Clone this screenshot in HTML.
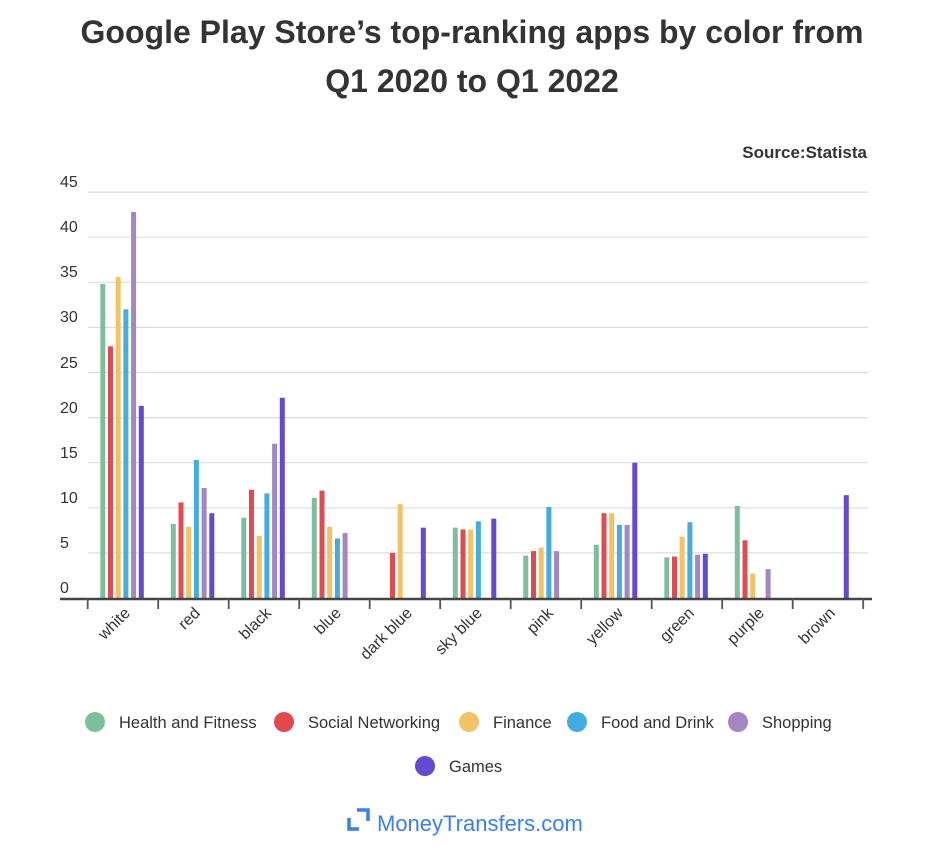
<!DOCTYPE html>
<html><head><meta charset="utf-8"><style>
body{margin:0;background:#fff;}
svg{display:block;font-family:"Liberation Sans",Arial,sans-serif;}
</style></head><body>
<svg id="s" width="932" height="858" viewBox="0 0 932 858" xmlns="http://www.w3.org/2000/svg">
<rect width="932" height="858" fill="#fff"/>
<text x="472" y="43" text-anchor="middle" font-size="32" font-weight="bold" fill="#333">Google Play Store’s top-ranking apps by color from</text>
<text x="472" y="92" text-anchor="middle" font-size="32" font-weight="bold" fill="#333">Q1 2020 to Q1 2022</text>
<text x="867" y="158" text-anchor="end" font-size="17" font-weight="bold" fill="#333">Source:Statista</text>
<g id="grid" stroke="#ddd" stroke-width="1.2"></g>
<g font-size="16" fill="#333">
<text x="60" y="187">45</text><text x="60" y="232">40</text><text x="60" y="277">35</text><text x="60" y="322">30</text><text x="60" y="368">25</text><text x="60" y="413">20</text><text x="60" y="458">15</text><text x="60" y="503">10</text><text x="60" y="548">5</text><text x="60" y="593">0</text>
</g>
<g id="bars"></g>
<line x1="60" y1="599" x2="872" y2="599" stroke="#444" stroke-width="2.5"/>
<g id="ticks" stroke="#555" stroke-width="1.8"></g>
<g font-size="16" fill="#333" text-anchor="end">
<text transform="translate(131,614) rotate(-45)">white</text>
<text transform="translate(201,614) rotate(-45)">red</text>
<text transform="translate(272,614) rotate(-45)">black</text>
<text transform="translate(342,614) rotate(-45)">blue</text>
<text transform="translate(413,614) rotate(-45)">dark blue</text>
<text transform="translate(483,614) rotate(-45)">sky blue</text>
<text transform="translate(554,614) rotate(-45)">pink</text>
<text transform="translate(624,614) rotate(-45)">yellow</text>
<text transform="translate(695,614) rotate(-45)">green</text>
<text transform="translate(765,614) rotate(-45)">purple</text>
<text transform="translate(836,614) rotate(-45)">brown</text>
</g>
<g font-size="16.5" fill="#333">
<circle cx="95" cy="722" r="10" fill="#7dbf9c"/><text x="119" y="728">Health and Fitness</text>
<circle cx="284" cy="722" r="10" fill="#e04a50"/><text x="308" y="728">Social Networking</text>
<circle cx="469" cy="722" r="10" fill="#f2c265"/><text x="493" y="728">Finance</text>
<circle cx="577" cy="722" r="10" fill="#43ade0"/><text x="601" y="728">Food and Drink</text>
<circle cx="738" cy="722" r="10" fill="#a487c0"/><text x="762" y="728">Shopping</text>
<circle cx="425" cy="766" r="10" fill="#6449d3"/><text x="449" y="772">Games</text>
</g>
<g fill="none" stroke="#3a7ef0" stroke-width="3.5">
<path d="M349 818 v11 h10"/><path d="M357 810 h11 v11"/>
</g>
<text x="377" y="831" font-size="22" fill="#3a7ef0">MoneyTransfers.com</text>
</svg>
<script>
var ns="http://www.w3.org/2000/svg";
var g=document.getElementById('grid');
for(var v=5;v<=45;v+=5){var y=598-v*9.02;var l=document.createElementNS(ns,'line');l.setAttribute('x1',88);l.setAttribute('x2',868);l.setAttribute('y1',y);l.setAttribute('y2',y);g.appendChild(l);}
var t=document.getElementById('ticks');
for(var i=0;i<12;i++){var x=87.7+i*70.5;var l=document.createElementNS(ns,'line');l.setAttribute('x1',x);l.setAttribute('x2',x);l.setAttribute('y1',599);l.setAttribute('y2',609);t.appendChild(l);}
var cols=["#7dbf9c","#e04a50","#f2c265","#43ade0","#a487c0","#6449d3"];
var d=[[34.8,27.9,35.6,32,42.8,21.3],[8.2,10.6,7.9,15.3,12.2,9.4],[8.9,12,6.9,11.6,17.1,22.2],[11.1,11.9,7.9,6.6,7.2,0],[0,5,10.4,0,0,7.8],[7.8,7.6,7.6,8.5,0,8.8],[4.7,5.2,5.6,10.1,5.2,0],[5.9,9.4,9.4,8.1,8.1,15],[4.5,4.6,6.8,8.4,4.8,4.9],[10.2,6.4,2.7,0,3.2,0],[0,0,0,0,0,11.4]];
var b=document.getElementById('bars');
d.forEach(function(r,i){r.forEach(function(v,j){if(!v)return;var x=87.7+i*70.5+12.6+j*7.7;var h=v*9.02;var e=document.createElementNS(ns,'rect');e.setAttribute('x',x);e.setAttribute('y',598-h);e.setAttribute('width',5);e.setAttribute('height',h);e.setAttribute('fill',cols[j]);b.appendChild(e);});});
</script>
</body></html>
